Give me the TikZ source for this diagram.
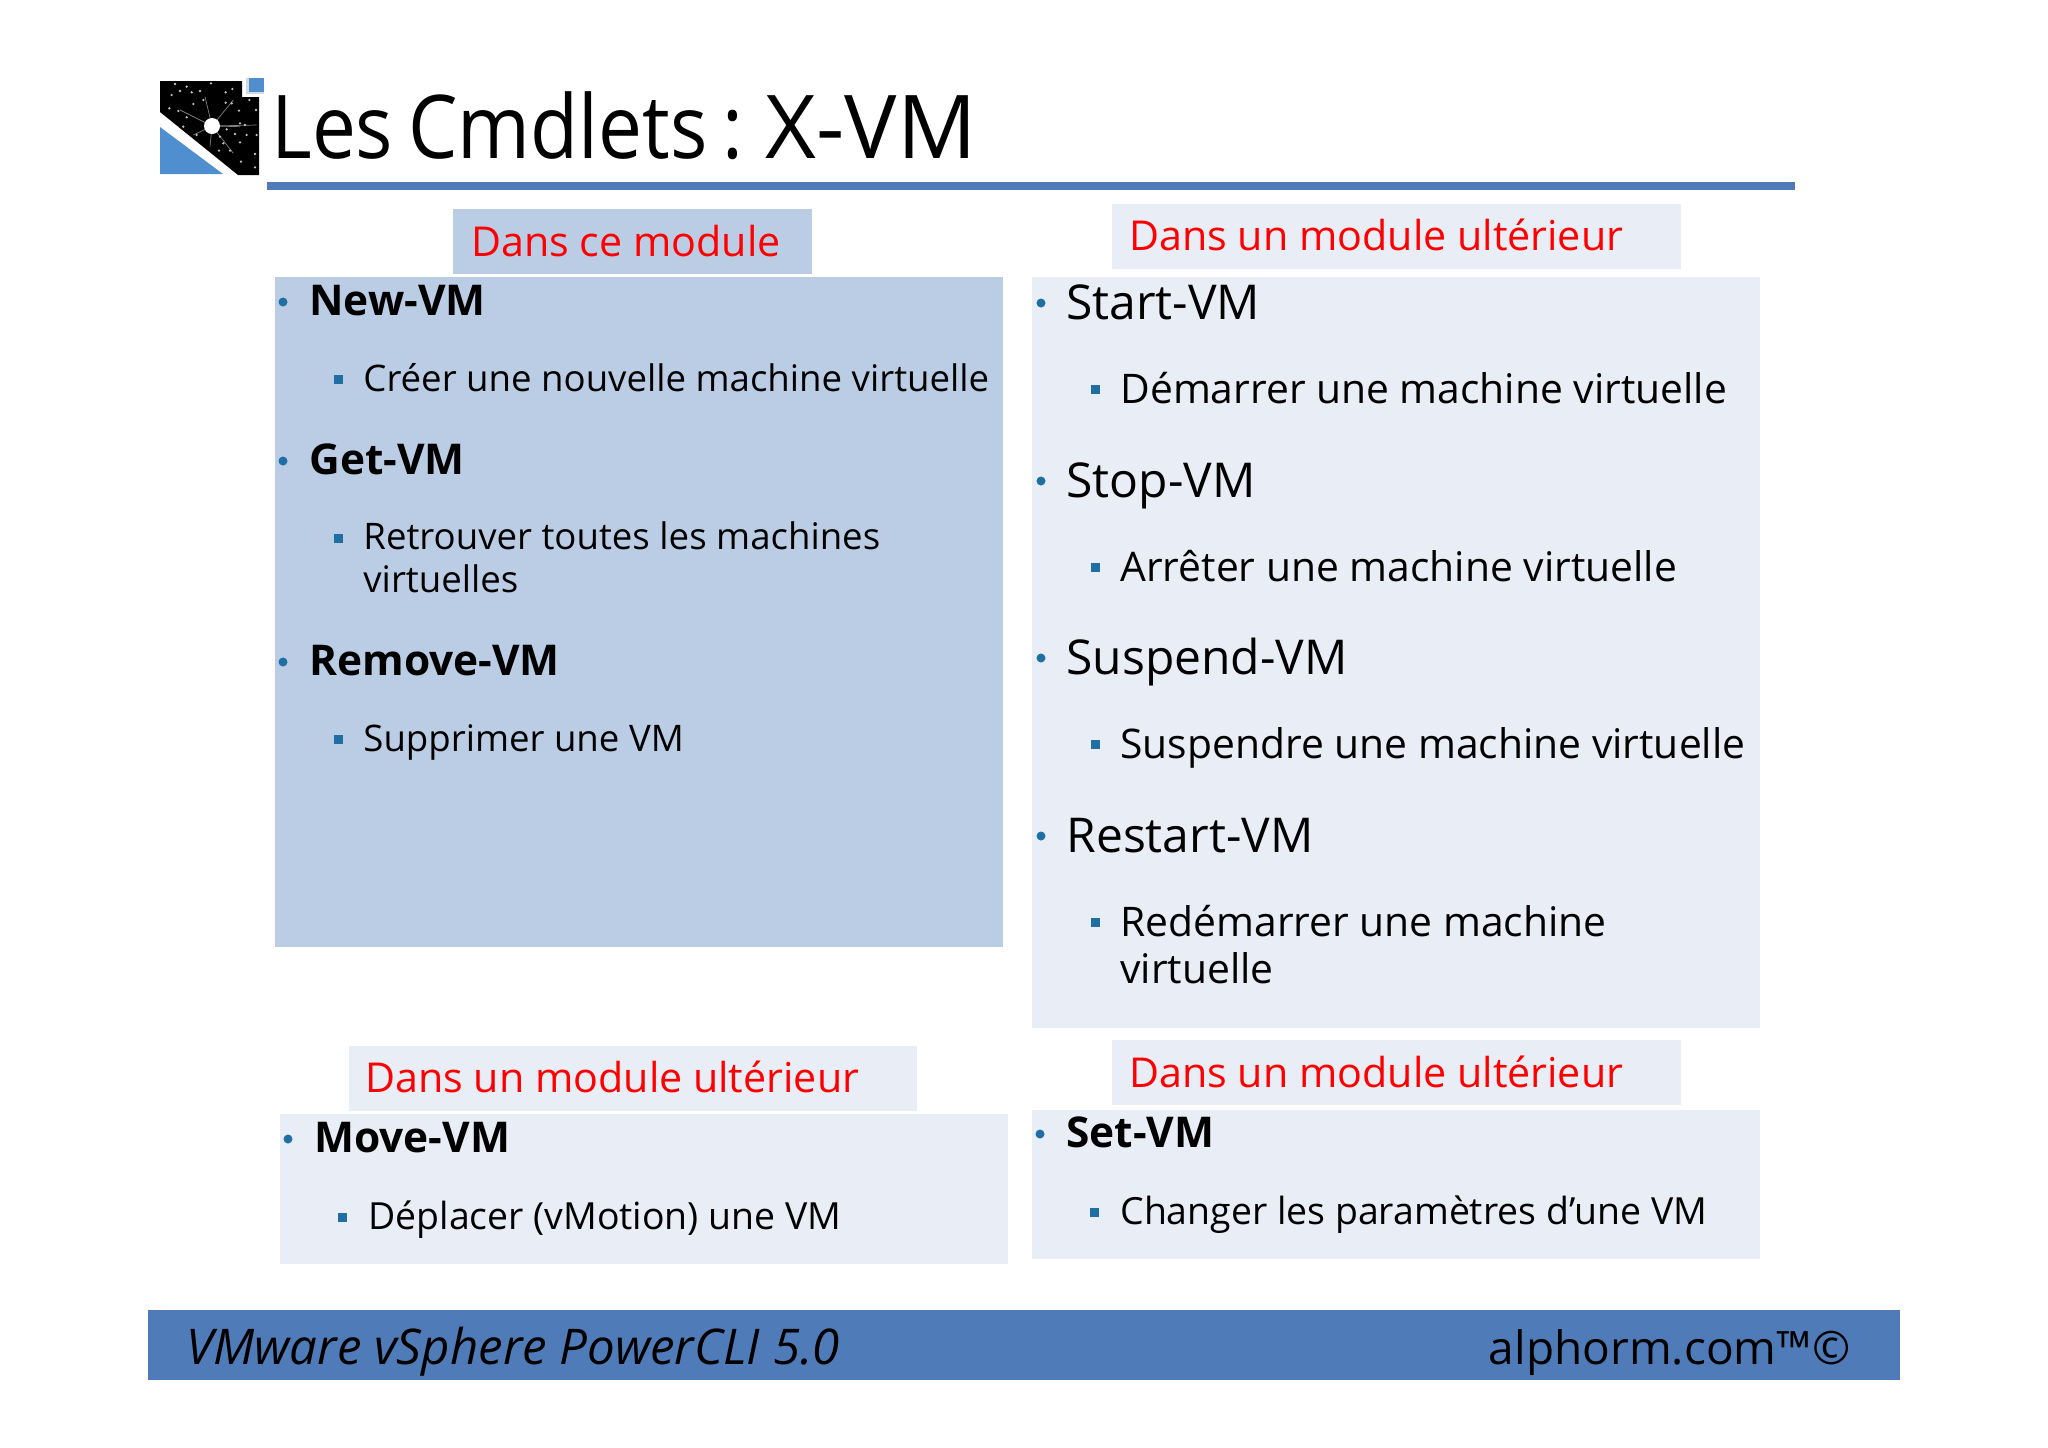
\documentclass[tikz,border=0pt]{standalone}
\usepackage{fontspec}
\setmainfont{Open Sans}
\newfontfamily\titlefont[FakeStretch=.89,WordSpace=.75]{Open Sans}
\newfontfamily\titlewide{Open Sans}
\definecolor{darkbox}{HTML}{BBCDE5}
\definecolor{lightbox}{HTML}{E9EDF5}
\definecolor{barblue}{HTML}{4F7CB9}
\definecolor{dotblue}{HTML}{1F6FA5}
\definecolor{logoblue}{HTML}{4F8FD0}
\tikzset{
  redlabel/.style={anchor=base west,inner sep=0pt,text=red,font=\fontsize{20.6}{24}\selectfont},
  dot/.style={circle,fill=dotblue,inner sep=0pt,minimum size=4.5pt},
  sq/.style={rectangle,fill=dotblue,inner sep=0pt,minimum size=4.5pt},
  cmdsmall/.style={anchor=base west,inner sep=0pt,font=\fontsize{21.2}{24}\bfseries},
  cmdbig/.style={anchor=base west,inner sep=0pt,font=\fontsize{24}{28}\selectfont},
  descsmall/.style={anchor=base west,inner sep=0pt,align=left,font=\fontsize{18.3}{21.5}\selectfont},
  descmid/.style={anchor=base west,inner sep=0pt,font=\fontsize{18.7}{22}\selectfont},
  descbig/.style={anchor=base west,inner sep=0pt,align=left,font=\fontsize{20.4}{23.5}\selectfont}
}
\begin{document}
\begin{tikzpicture}[x=0.5pt,y=-0.5pt]
    \useasboundingbox (0,0) rectangle (2048,1447);
    % Logo
    \fill (160,81) -- (242,81) -- (242,97) -- (259,97) -- (259,175) -- (238,175) -- (160,112) -- cycle;
    \fill[logoblue] (160,127) -- (223,174) -- (160,174) -- cycle;
    \fill[gray!30] (246,78) rectangle (264,94);
    \fill[logoblue] (249,78) rectangle (264,92);
    \foreach \sx/\sy in {120/150,195/110,280/120,300/200,350/195,280/280,210/260,160/225} {
        \draw[gray,line width=0.35pt] (212,126) -- ({140+\sx/3},{60+\sy/3});
    }
    \fill[white] (212,126) circle (8);
    \foreach \sx/\sy in {105/72,140/80,213/70,95/105,120/93,155/97,180/93,257/97,277/87,190/120,160/132,257/128,275/130,328/120,297/152,348/150,88/145,115/153,140/172,130/200,300/190,315/195,260/208,350/225,320/225,285/222,170/225,240/230,300/247,250/250,237/272,270/272,345/282,303/305,345/322} {
        \fill[white!75!black] ({140+\sx/3},{60+\sy/3}) circle (1.3);
    }
    % Title
    \node[anchor=base west,inner sep=0pt,font=\fontsize{44}{50}\titlefont] (title) at (271,158) {Les Cmdlets : {\titlewide X-VM}};
    \fill[barblue] (267,182) rectangle (1795,190);
    % Boxes
    \fill[darkbox] (275,277) rectangle (1003,947);
    \fill[lightbox] (1032,277) rectangle (1760,1028);
    \fill[lightbox] (280,1114) rectangle (1008,1264);
    \fill[lightbox] (1032,1110) rectangle (1760,1259);
    % Red labels
    \fill[darkbox] (453,209) rectangle (812,274);
    \fill[lightbox] (1112,204) rectangle (1681,269);
    \fill[lightbox] (349,1046) rectangle (917,1111);
    \fill[lightbox] (1112,1040) rectangle (1681,1105);
    \node[redlabel] (modnow) at (471,256) {Dans ce module};
    \foreach \n/\x/\y in {modtop/1129/250,modmove/365/1092,modset/1129/1087} {
        \node[redlabel] (\n) at (\x,\y) {Dans un module ultérieur};
    }
    % Commands with a bullet
    \foreach \n/\x/\y/\t in {newvm/309/315/New-VM,getvm/309/474/Get-VM,rmvm/309/675/Remove-VM,movevm/314/1152/Move-VM,setvm/1066/1147/Set-VM} {
        \node[cmdsmall] (\n) at (\x,\y) {\t};
        \node[dot] (\n dot) at ({\x-26},{\y-13}) {};
    }
    \foreach \n/\x/\y/\t in {startvm/1066/319/Start-VM,stopvm/1066/497/Stop-VM,suspvm/1066/674/Suspend-VM,restvm/1066/852/Restart-VM} {
        \node[cmdbig] (\n) at (\x,\y) {\t};
        \node[dot] (\n dot) at ({\x-25},{\y-16}) {};
    }
    % Descriptions with a square
    \foreach \n/\x/\y/\t in {newdesc/363/391/Créer une nouvelle machine virtuelle,rmdesc/363/751/Supprimer une VM} {
        \node[descsmall] (\n) at (\x,\y) {\t};
        \node[sq] (\n sq) at (338,{\y-12}) {};
    }
    \foreach \n/\x/\y/\t in {movedesc/368/1229/Déplacer (vMotion) une VM,setdesc/1120/1224/Changer les paramètres d’une VM} {
        \node[descmid] (\n) at (\x,\y) {\t};
        \node[sq] (\n sq) at ({\x-26},{\y-12}) {};
    }
    \node[descsmall] (getdesc) at (363,592) {Retrouver toutes les machines\\virtuelles};
    \node[sq] (getdesc sq) at (338,538) {};
    \foreach \n/\y/\t in {startdesc/403/Démarrer une machine virtuelle,stopdesc/581/Arrêter une machine virtuelle,suspdesc/758/Suspendre une machine virtuelle} {
        \node[descbig] (\n) at (1120,\y) {\t};
        \node[sq] (\n sq) at (1095,{\y-14}) {};
    }
    \node[descbig] (restdesc) at (1120,983) {Redémarrer une machine\\virtuelle};
    \node[sq] (restdesc sq) at (1095,922) {};
    % Footer
    \fill[barblue] (148,1310) rectangle (1900,1380);
    \node[anchor=base west,inner sep=0pt,font=\fontsize{24.6}{28}\itshape] (course) at (186,1364) {VMware vSphere PowerCLI 5.0};
    \node[anchor=base east,inner sep=0pt,font=\fontsize{23}{28}\selectfont] (brand) at (1851,1364) {alphorm.com™©};
\end{tikzpicture}
\end{document}
